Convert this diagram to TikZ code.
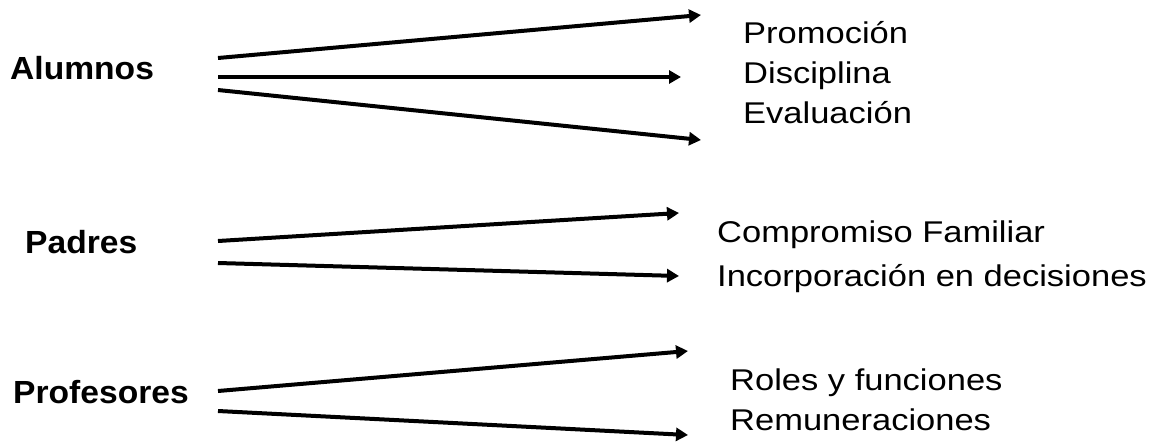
\documentclass[tikz,border=0pt]{standalone}
\usepackage{fontspec}
\setmainfont{Liberation Sans}
\usetikzlibrary{arrows.meta}

\newcommand\widetext[1]{\scalebox{1.15}[1]{#1}}
\newcommand\widebold[1]{\scalebox{1.05}[1]{#1}}

\begin{document}
\begin{tikzpicture}[x=1pt,y=-1pt,
  group/.style={anchor=base west, inner sep=0pt, font=\fontsize{32}{38}\selectfont\bfseries},
  item/.style={anchor=base west, inner sep=0pt, font=\fontsize{30}{36}\selectfont},
  link/.style={line width=4pt, -{Triangle[length=12pt,width=13pt]}}]
  \useasboundingbox (0,0) rectangle (1158,442);

  % groups on the left
  \node[group] (alumnos)    at (10,79)  {\widebold{Alumnos}};
  \node[group] (padres)     at (25,253) {\widebold{Padres}};
  \node[group] (profesores) at (13,403) {\widebold{Profesores}};

  % topics on the right
  \node[item] (promo) at (743,43)  {\widetext{Promoción}};
  \node[item] (disc)  at (743,83)  {\widetext{Disciplina}};
  \node[item] (eval)  at (743,123) {\widetext{Evaluación}};
  \node[item] (comp)  at (717,242) {\widetext{Compromiso Familiar}};
  \node[item] (inc)   at (717,286) {\widetext{Incorporación en decisiones}};
  \node[item] (roles) at (730,390) {\widetext{Roles y funciones}};
  \node[item] (rem)   at (730,430) {\widetext{Remuneraciones}};

  % arrow start points beside each group
  \coordinate (a1) at (218,58);
  \coordinate (a2) at (218,77);
  \coordinate (a3) at (218,90);
  \coordinate (p1) at (218,241);
  \coordinate (p2) at (218,263);
  \coordinate (f1) at (218,391);
  \coordinate (f2) at (218,411);

  % arrow end points
  \coordinate (ea1) at (701,15);
  \coordinate (ea2) at (681,77);
  \coordinate (ea3) at (701,140);
  \coordinate (ep1) at (679,213);
  \coordinate (ep2) at (679,276);
  \coordinate (ef1) at (688,351);
  \coordinate (ef2) at (688,435);

  \draw[link] (a1) -- (ea1);
  \draw[link] (a2) -- (ea2);
  \draw[link] (a3) -- (ea3);
  \draw[link] (p1) -- (ep1);
  \draw[link] (p2) -- (ep2);
  \draw[link] (f1) -- (ef1);
  \draw[link] (f2) -- (ef2);
\end{tikzpicture}
\end{document}
